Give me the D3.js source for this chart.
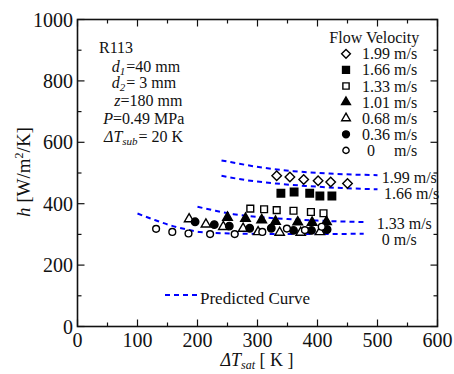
<!DOCTYPE html>
<html>
<head>
<meta charset="utf-8">
<script src="https://cdn.jsdelivr.net/npm/d3@7"></script>
<style>
  body { margin: 0; background: #fff; }
  text { font-family: "Liberation Serif", "Times New Roman", serif; fill: #111; }
</style>
</head>
<body>
<svg id="svg" width="454" height="374"></svg>
<script>
// measured points, x = dT_sat [K], y = h [W/m2/K]
let v199K = [332, 354, 377, 401, 422, 450];
let v199H = [491, 487, 479, 475, 471, 466];
let v166K = [339, 361, 387, 404, 424];
let v166H = [434, 438, 434, 425, 425];
let v133K = [288, 311, 332, 360, 389, 410];
let v133H = [384, 382, 379, 377, 373, 369];
let v101K = [250, 280, 307, 330, 367, 391, 415];
let v101H = [355, 352, 347, 342, 340, 339, 341];
let v068K = [186, 214, 243, 276, 301, 337, 372, 404];
let v068H = [350, 333, 325, 319, 308, 306, 306, 308];
let v036K = [196, 228, 253, 287, 323, 360, 390, 416];
let v036H = [341, 332, 327, 320, 320, 313, 313, 316];
let v0K = [131, 158, 185, 221, 262, 308, 349, 379, 407];
let v0H = [318, 308, 303, 301, 301, 308, 319, 314, 325];

// predicted curves
let p199K = [240, 270, 310, 360, 420, 500];
let p199H = [541, 530, 517, 506, 498, 493];
let p166K = [240, 280, 330, 380, 440, 500];
let p166H = [491, 477, 466, 458, 451, 447];
let p133K = [200, 230, 260, 300, 350, 400, 477];
let p133H = [390, 377, 366, 357, 350, 345, 340];
let p0K = [100, 130, 154, 180, 204, 254, 350, 477];
let p0H = [368, 346, 330, 317, 308, 303, 301, 302];

let legendLabels = ["1.99 m/s", "1.66 m/s", "1.33 m/s", "1.01 m/s", "0.68 m/s", "0.36 m/s", "0"];
let curveLabels = ["1.99 m/s", "1.66 m/s", "1.33 m/s", "0 m/s"];

let xTicks = [0, 100, 200, 300, 400, 500, 600];
let xMinor = [50, 150, 250, 350, 450, 550];
let yTicks = [0, 200, 400, 600, 800, 1000];
let yMinor = [100, 300, 500, 700, 900];

let L = 77.5, R = 437.5, T = 19.5, B = 326.5;
let x = d3.scaleLinear().domain([0, 600]).range([L, R]);
let y = d3.scaleLinear().domain([0, 1000]).range([B, T]);

let svg = d3.select('#svg');

// ticks (inward, all four sides)
let tk = svg.append("g").attr("stroke", "#111").attr("stroke-width", 1.2);
xTicks.concat(xMinor).forEach(v => {
  let len = xTicks.indexOf(v) >= 0 ? 7 : 4;
  tk.append("line").attr("x1", x(v)).attr("x2", x(v)).attr("y1", B).attr("y2", B - len);
  tk.append("line").attr("x1", x(v)).attr("x2", x(v)).attr("y1", T).attr("y2", T + len);
});
yTicks.concat(yMinor).forEach(v => {
  let len = yTicks.indexOf(v) >= 0 ? 7 : 4;
  tk.append("line").attr("y1", y(v)).attr("y2", y(v)).attr("x1", L).attr("x2", L + len);
  tk.append("line").attr("y1", y(v)).attr("y2", y(v)).attr("x1", R).attr("x2", R - len);
});

svg.append("rect").attr("x", L).attr("y", T).attr("width", R - L).attr("height", B - T)
  .attr("fill", "none").attr("stroke", "#111").attr("stroke-width", 1.6);

// tick labels
svg.append("g").selectAll("text").data(xTicks).join("text")
  .attr("x", d => x(d)).attr("y", 347).attr("text-anchor", "middle")
  .attr("font-size", 20).text(d => d);
svg.append("g").selectAll("text").data(yTicks).join("text")
  .attr("x", 73).attr("y", d => y(d) + 7).attr("text-anchor", "end")
  .attr("font-size", 20).text(d => d);

// axis titles
let xl = svg.append("text").attr("x", 257).attr("y", 366).attr("text-anchor", "middle").attr("font-size", 18);
xl.append("tspan").attr("font-style", "italic").text("ΔT");
xl.append("tspan").attr("font-style", "italic").attr("font-size", 12).attr("dy", 3).text("sat");
xl.append("tspan").attr("dy", -3).text(" [ K ]");

let yl = svg.append("text").attr("transform", "translate(30,172) rotate(-90)")
  .attr("text-anchor", "middle").attr("font-size", 19);
yl.append("tspan").attr("font-style", "italic").text("h");
yl.append("tspan").text("   [W/m");
yl.append("tspan").attr("font-size", 12).attr("dy", -7).text("2");
yl.append("tspan").attr("dy", 7).text("/K]");

// conditions text
let info = svg.append("g").attr("font-size", 16);
info.append("text").attr("x", 99).attr("y", 53.3).text("R113");
function subLine(px, py, a, s, b) {
  let t = info.append("text").attr("x", px).attr("y", py);
  t.append("tspan").attr("font-style", "italic").text(a);
  t.append("tspan").attr("font-style", "italic").attr("font-size", 11).attr("dy", 3).text(s);
  t.append("tspan").attr("dy", -3).attr("dx", 1).text(b);
}
subLine(111.7, 71.7, "d", "1", "=40 mm");
subLine(111.7, 88.3, "d", "2", "= 3 mm");
let zt = info.append("text").attr("x", 114.3).attr("y", 105.7);
zt.append("tspan").attr("font-style", "italic").text("z");
zt.append("tspan").text("=180 mm");
let pt = info.append("text").attr("x", 103.3).attr("y", 124);
pt.append("tspan").attr("font-style", "italic").text("P");
pt.append("tspan").text("=0.49 MPa");
subLine(104, 141.5, "ΔT", "sub", "= 20 K");

// predicted curves
let line = d3.line().x(d => x(d[0])).y(d => y(d[1])).curve(d3.curveMonotoneX);
let curves = [[p199K, p199H], [p166K, p166H], [p133K, p133H], [p0K, p0H]];
let cg = svg.append("g").attr("fill", "none").attr("stroke", "#0000ff")
  .attr("stroke-width", 2).attr("stroke-dasharray", "5,4");
curves.forEach(c => {
  cg.append("path").attr("d", line(d3.zip(c[0], c[1])));
});

let clPos = [[381.7, 183], [384, 199], [376.7, 229], [381.7, 245]];
svg.append("g").selectAll("text").data(curveLabels).join("text")
  .attr("x", (d, i) => clPos[i][0]).attr("y", (d, i) => clPos[i][1])
  .attr("font-size", 16).text(d => d);

// markers
let sym = [
  { type: d3.symbolDiamond2, size: 58, fill: "#fff" },
  { type: d3.symbolSquare, size: 56, fill: "#000" },
  { type: d3.symbolSquare, size: 46, fill: "#fff" },
  { type: d3.symbolTriangle, size: 40, fill: "#000" },
  { type: d3.symbolTriangle, size: 38, fill: "#fff" },
  { type: d3.symbolCircle, size: 44, fill: "#000" },
  { type: d3.symbolCircle, size: 36, fill: "#fff" }
];
let series = [[v199K, v199H], [v166K, v166H], [v133K, v133H], [v101K, v101H],
  [v068K, v068H], [v036K, v036H], [v0K, v0H]];

let mg = svg.append("g").attr("stroke", "#000").attr("stroke-width", 1.4);
series.forEach((s, i) => {
  let sh = d3.symbol().type(sym[i].type).size(sym[i].size);
  mg.append("g").selectAll("path").data(d3.zip(s[0], s[1])).join("path")
    .attr("d", sh)
    .attr("fill", sym[i].fill)
    .attr("transform", d => `translate(${x(d[0])},${y(d[1])})`);
});

// legend
let lg = svg.append("g");
lg.append("text").attr("x", 329.3).attr("y", 42.7).attr("font-size", 16).text("Flow Velocity");
legendLabels.forEach((lab, i) => {
  let by = 59.3 + i * 16.1;
  let sh = d3.symbol().type(sym[i].type).size(sym[i].size * 0.85);
  lg.append("path").attr("d", sh).attr("fill", sym[i].fill)
    .attr("stroke", "#000").attr("stroke-width", 1.4)
    .attr("transform", `translate(346,${by - 5.5})`);
  if (lab == "0") {
    lg.append("text").attr("x", 367).attr("y", by).attr("font-size", 16).text("0");
    lg.append("text").attr("x", 394).attr("y", by).attr("font-size", 16).text("m/s");
  } else {
    lg.append("text").attr("x", 362).attr("y", by).attr("font-size", 16).text(lab);
  }
});

// predicted curve key
svg.append("line").attr("x1", 165).attr("x2", 200).attr("y1", 295).attr("y2", 295)
  .attr("stroke", "#0000ff").attr("stroke-width", 2).attr("stroke-dasharray", "5,4");
svg.append("text").attr("x", 200).attr("y", 304).attr("font-size", 17).text("Predicted Curve");
</script>
</body>
</html>
